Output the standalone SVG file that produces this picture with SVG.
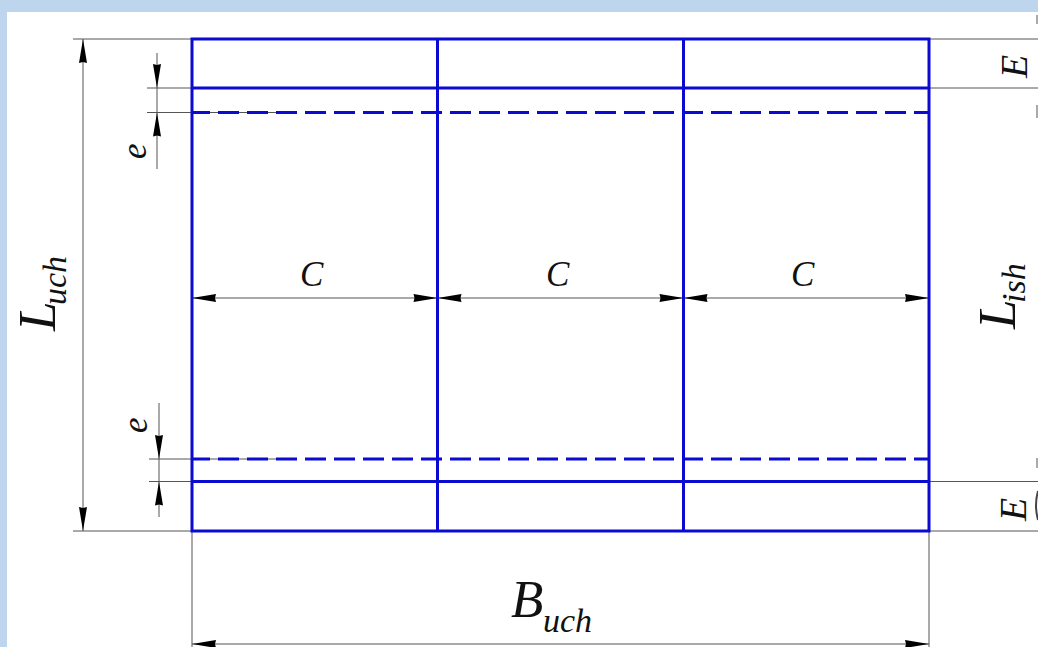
<svg xmlns="http://www.w3.org/2000/svg" width="1038" height="647" viewBox="0 0 1038 647">
<style>
.dim{stroke:#555;stroke-width:1;fill:none}
.bl{stroke:#0a0ad2;stroke-width:3;fill:none}
.dash{stroke-dasharray:21 8;stroke-dashoffset:3}
.edge{stroke:#aaa;stroke-width:2;fill:none}
text{font-family:"Liberation Serif","Times New Roman",serif;font-style:italic;fill:#111}
.big{font-size:53px}.sub{font-size:34px}.c{font-size:35px}.e{font-size:38px}.s{font-size:35px}
</style>
<defs>
<path id="ah" d="M0 0L24 -4L23 0L24 4Z" fill="#000"/>
</defs>
<rect width="1038" height="647" fill="#bdd6ee"/>
<rect x="7" y="12" width="1031" height="635" fill="#fff"/>
<g id="connectors">
<path class="dim" d="M73 39H192M73 531H192M929 39H1038M929 88H1038M929 481.500H1038M929 531H1038M147 88H192M147 112.500H280M149 459H280M149 481.500H192M192 531V647M929 531V647"/>
<path class="dim" d="M83 39V531M157 53V169M159 403V517M192 298H929M192 644H929"/>
<use href="#ah" transform="translate(83 39) rotate(90)"/>
<use href="#ah" transform="translate(83 531) rotate(-90)"/>
<use href="#ah" transform="translate(157 88) rotate(-90)"/>
<use href="#ah" transform="translate(157 112.500) rotate(90)"/>
<use href="#ah" transform="translate(159 459) rotate(-90)"/>
<use href="#ah" transform="translate(159 481.500) rotate(90)"/>
<use href="#ah" transform="translate(192 298)"/>
<use href="#ah" transform="translate(437.500 298) rotate(180)"/>
<use href="#ah" transform="translate(437.500 298)"/>
<use href="#ah" transform="translate(683.500 298) rotate(180)"/>
<use href="#ah" transform="translate(683.500 298)"/>
<use href="#ah" transform="translate(929 298) rotate(180)"/>
<use href="#ah" transform="translate(192 644)"/>
<use href="#ah" transform="translate(929 644) rotate(180)"/>
</g>
<g id="grid">
<path class="bl dash" d="M192 112.500H929M192 459H929"/>
<path class="bl" d="M192 88H929M192 481.500H929M437.500 39V531M683.500 39V531"/>
<rect class="bl" x="192" y="39" width="737" height="492"/>
</g>
<g id="edge-marks">
<path class="edge" d="M1037 15V24M1037 105V118M1037 458V468"/>
<path d="M1038 491Q1034 505 1038 520" stroke="#444" stroke-width="2" fill="none"/>
</g>
<g id="labels">
<text class="c" x="300" y="286">C</text>
<text class="c" x="546" y="286">C</text>
<text class="c" x="791" y="286">C</text>
<text class="big" x="511" y="617">B</text><text class="sub" x="543" y="632">uch</text>
<text class="big" transform="translate(55 331) rotate(-90)">L</text>
<text class="sub" transform="translate(66 305) rotate(-90)">uch</text>
<text class="big" transform="translate(1015 329) rotate(-90)">L</text>
<text class="sub" transform="translate(1025 303) rotate(-90)">ish</text>
<text class="e" transform="translate(1027 78) rotate(-90)">E</text>
<text class="e" transform="translate(1026 521) rotate(-90)">E</text>
<text class="s" transform="translate(146 159) rotate(-90)">e</text>
<text class="s" transform="translate(147 433) rotate(-90)">e</text>
</g>
</svg>
